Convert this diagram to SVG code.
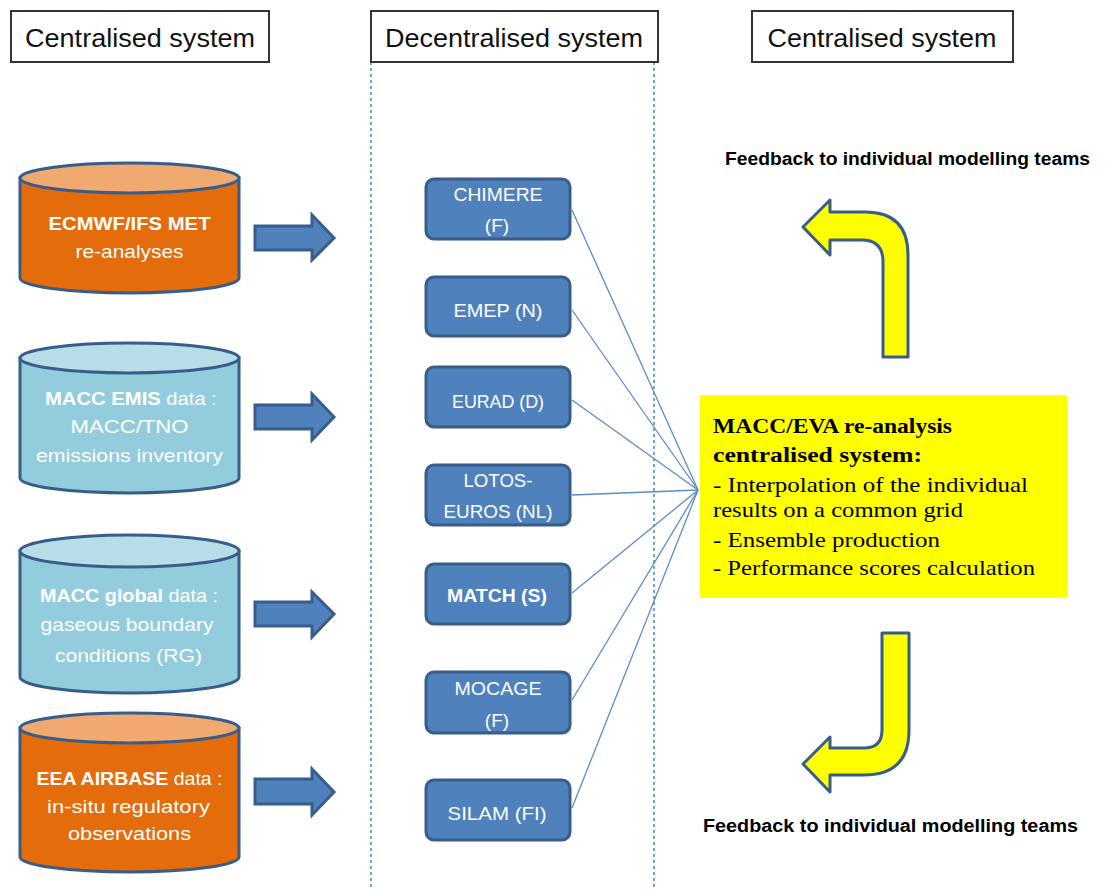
<svg xmlns="http://www.w3.org/2000/svg" width="1106" height="890" viewBox="0 0 1106 890">
<style>
.hdr{fill:#fff;stroke:#333;stroke-width:2}
.htxt{font-family:"Liberation Sans",Arial,sans-serif;font-size:26px;fill:#111;text-anchor:middle}
.cylO .body{fill:#E46C0A;stroke:#385D8A;stroke-width:3}
.cylO .top{fill:#F0A96E;stroke:#385D8A;stroke-width:3}
.cylB .body{fill:#93CDDD;stroke:#385D8A;stroke-width:3}
.cylB .top{fill:#B7DEE8;stroke:#385D8A;stroke-width:3}
.ctxt{font-family:"Liberation Sans",Arial,sans-serif;font-size:19px;fill:#fff;text-anchor:middle}
.b{font-weight:bold}
.barrow{fill:#4F81BD;stroke:#385D8A;stroke-width:3}
.model{fill:#4F81BD;stroke:#385D8A;stroke-width:3}
.mtxt{font-family:"Liberation Sans",Arial,sans-serif;font-size:19px;fill:#fff;text-anchor:middle}
.conn{stroke:#5B8CC8;stroke-width:1.3;fill:none}
.sep{stroke:#4F81BD;stroke-width:1.5;stroke-dasharray:3 3;fill:none}
.ytxt{font-family:"Liberation Serif","Times New Roman",serif;font-size:21px;fill:#000}
.yarrow{fill:#FFFF00;stroke:#385D8A;stroke-width:3;stroke-linejoin:round}
.ftxt{font-family:"Liberation Sans",Arial,sans-serif;font-size:18px;fill:#000;font-weight:bold}
</style>
<g id="separators">
<line class="sep" x1="371" y1="62" x2="371" y2="890"/>
<line class="sep" x1="654" y1="62" x2="654" y2="890"/>
</g>
<g id="header-left"><rect class="hdr" x="11" y="11" width="258" height="51"/><text class="htxt" x="140" y="47" textLength="230" lengthAdjust="spacingAndGlyphs">Centralised system</text></g>
<g id="header-mid"><rect class="hdr" x="371" y="11" width="287" height="51"/><text class="htxt" x="514" y="47" textLength="258" lengthAdjust="spacingAndGlyphs">Decentralised system</text></g>
<g id="header-right"><rect class="hdr" x="752" y="11" width="261" height="51"/><text class="htxt" x="882" y="47" textLength="229" lengthAdjust="spacingAndGlyphs">Centralised system</text></g>

<g id="cyl-ecmwf" class="cylO">
<path class="body" d="M20 178 L20 278 A109.5 15 0 0 0 239 278 L239 178 Z"/>
<ellipse class="top" cx="129.5" cy="178" rx="109.5" ry="15"/>
<text class="ctxt b" x="129.5" y="230" textLength="162" lengthAdjust="spacingAndGlyphs">ECMWF/IFS MET</text>
<text class="ctxt" x="129.5" y="258" textLength="108" lengthAdjust="spacingAndGlyphs">re-analyses</text>
</g>
<g id="cyl-emis" class="cylB">
<path class="body" d="M20 358 L20 478 A109.5 15 0 0 0 239 478 L239 358 Z"/>
<ellipse class="top" cx="129.5" cy="358" rx="109.5" ry="15"/>
<text class="ctxt" x="131" y="405" textLength="172" lengthAdjust="spacingAndGlyphs"><tspan class="b">MACC EMIS</tspan> data :</text>
<text class="ctxt" x="129.5" y="433" textLength="118" lengthAdjust="spacingAndGlyphs">MACC/TNO</text>
<text class="ctxt" x="129.5" y="462" textLength="187" lengthAdjust="spacingAndGlyphs">emissions inventory</text>
</g>
<g id="cyl-global" class="cylB">
<path class="body" d="M20 551 L20 677 A109.5 16 0 0 0 239 677 L239 551 Z"/>
<ellipse class="top" cx="129.5" cy="551" rx="109.5" ry="16"/>
<text class="ctxt" x="129" y="602" textLength="178" lengthAdjust="spacingAndGlyphs"><tspan class="b">MACC global</tspan> data :</text>
<text class="ctxt" x="127" y="631" textLength="173" lengthAdjust="spacingAndGlyphs">gaseous boundary</text>
<text class="ctxt" x="128.5" y="662" textLength="147" lengthAdjust="spacingAndGlyphs">conditions  (RG)</text>
</g>
<g id="cyl-eea" class="cylO">
<path class="body" d="M20 728 L20 857 A109.5 15 0 0 0 239 857 L239 728 Z"/>
<ellipse class="top" cx="129.5" cy="728" rx="109.5" ry="15"/>
<text class="ctxt" x="129.5" y="785" textLength="186" lengthAdjust="spacingAndGlyphs"><tspan class="b">EEA AIRBASE</tspan> data :</text>
<text class="ctxt" x="128.5" y="813" textLength="163" lengthAdjust="spacingAndGlyphs">in-situ regulatory</text>
<text class="ctxt" x="129.5" y="840" textLength="123" lengthAdjust="spacingAndGlyphs">observations</text>
</g>

<g id="input-arrows">
<path class="barrow" d="M255 226 L312 226 L312 215 L334 238 L312 260 L312 250 L255 250 Z"/>
<path class="barrow" d="M255 405 L312 405 L312 394 L334 417 L312 440 L312 429 L255 429 Z"/>
<path class="barrow" d="M255 602 L312 602 L312 592 L334 614 L312 637 L312 626 L255 626 Z"/>
<path class="barrow" d="M255 779 L312 779 L312 769 L334 792 L312 815 L312 804 L255 804 Z"/>
</g>

<g id="connectors">
<line class="conn" x1="572" y1="210" x2="698" y2="490"/>
<line class="conn" x1="572" y1="310" x2="698" y2="490"/>
<line class="conn" x1="572" y1="400" x2="698" y2="490"/>
<line class="conn" x1="572" y1="495" x2="698" y2="490"/>
<line class="conn" x1="572" y1="593" x2="698" y2="490"/>
<line class="conn" x1="572" y1="700" x2="698" y2="490"/>
<line class="conn" x1="572" y1="808" x2="698" y2="490"/>
</g>

<g id="m-chimere"><rect class="model" x="426" y="179" width="144" height="60" rx="8"/><text class="mtxt" x="498" y="201" textLength="89" lengthAdjust="spacingAndGlyphs">CHIMERE</text><text class="mtxt" x="497" y="232">(F)</text></g>
<g id="m-emep"><rect class="model" x="426" y="277" width="144" height="59" rx="8"/><text class="mtxt" x="498" y="317" textLength="89" lengthAdjust="spacingAndGlyphs">EMEP (N)</text></g>
<g id="m-eurad"><rect class="model" x="426" y="367" width="144" height="60" rx="8"/><text class="mtxt" x="498" y="408" textLength="92" lengthAdjust="spacingAndGlyphs">EURAD (D)</text></g>
<g id="m-lotos"><rect class="model" x="426" y="465" width="144" height="60" rx="8"/><text class="mtxt" x="498" y="487" textLength="69" lengthAdjust="spacingAndGlyphs">LOTOS-</text><text class="mtxt" x="498" y="518" textLength="109" lengthAdjust="spacingAndGlyphs">EUROS (NL)</text></g>
<g id="m-match"><rect class="model" x="426" y="564" width="144" height="60" rx="8"/><text class="mtxt b" x="497" y="602" textLength="100" lengthAdjust="spacingAndGlyphs">MATCH (S)</text></g>
<g id="m-mocage"><rect class="model" x="426" y="672" width="144" height="61" rx="8"/><text class="mtxt" x="498" y="695" textLength="87" lengthAdjust="spacingAndGlyphs">MOCAGE</text><text class="mtxt" x="497" y="727">(F)</text></g>
<g id="m-silam"><rect class="model" x="426" y="780" width="144" height="60" rx="8"/><text class="mtxt" x="497" y="820" textLength="99" lengthAdjust="spacingAndGlyphs">SILAM (FI)</text></g>

<g id="eva-system">
<rect x="700" y="395" width="367" height="203" fill="#FFFF00"/>
<text class="ytxt b" x="713" y="433" textLength="239" lengthAdjust="spacingAndGlyphs">MACC/EVA re-analysis</text>
<text class="ytxt b" x="713" y="462" textLength="209" lengthAdjust="spacingAndGlyphs">centralised system:</text>
<text class="ytxt" x="713" y="492" textLength="315" lengthAdjust="spacingAndGlyphs">- Interpolation of the individual</text>
<text class="ytxt" x="713" y="517" textLength="250" lengthAdjust="spacingAndGlyphs">results on a common grid</text>
<text class="ytxt" x="713" y="547" textLength="227" lengthAdjust="spacingAndGlyphs">- Ensemble production</text>
<text class="ytxt" x="713" y="575" textLength="322" lengthAdjust="spacingAndGlyphs">- Performance scores calculation</text>
</g>

<g id="feedback-top">
<text class="ftxt" x="725" y="165" textLength="365" lengthAdjust="spacingAndGlyphs">Feedback to individual modelling teams</text>
<path class="yarrow" d="M803 227 L830 200 L830 212 L865 212 Q908 212 908 255 L908 357 L883 357 L883 262 Q883 240 862 240 L830 240 L830 255 Z"/>
</g>
<g id="feedback-bottom">
<path class="yarrow" d="M882 633 L909 633 L909 730 Q909 775 864 775 L830 775 L830 792 L803 764 L830 737 L830 748 L864 748 Q882 748 882 730 Z"/>
<text class="ftxt" x="703" y="832" textLength="375" lengthAdjust="spacingAndGlyphs">Feedback to individual modelling teams</text>
</g>
</svg>
